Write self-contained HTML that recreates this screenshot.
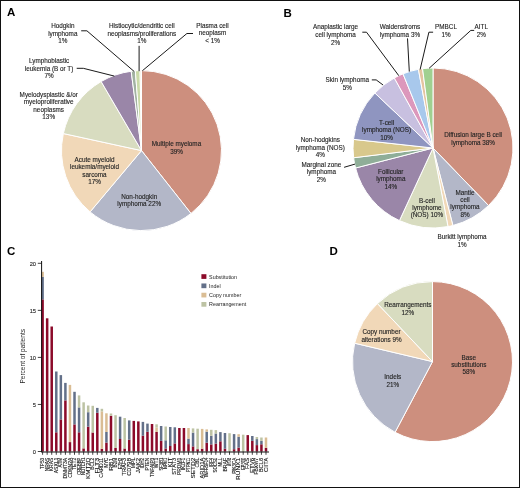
<!DOCTYPE html>
<html><head><meta charset="utf-8"><style>
html,body{margin:0;padding:0;background:#fff;}
svg{display:block;font-family:"Liberation Sans", sans-serif;will-change:transform;}
</style></head><body>
<svg width="520" height="488" viewBox="0 0 520 488">
<rect x="0" y="0" width="520" height="488" fill="#fff"/>
<text x="7.0" y="16.1" font-size="11.5" font-weight="bold" fill="#000">A</text>
<text x="283.4" y="16.6" font-size="11.5" font-weight="bold" fill="#000">B</text>
<text x="6.9" y="255.4" font-size="11.5" font-weight="bold" fill="#000">C</text>
<text x="329.4" y="255.2" font-size="11.5" font-weight="bold" fill="#000">D</text>
<path d="M141.50,150.60 L141.50,70.60 A80.0,80.0 0 0 1 190.97,213.47 Z" fill="#cd8f7e" stroke="#ffffff" stroke-width="1.0" stroke-linejoin="round"/>
<path d="M141.50,150.60 L190.97,213.47 A80.0,80.0 0 0 1 90.08,211.88 Z" fill="#b3b7c8" stroke="#ffffff" stroke-width="1.0" stroke-linejoin="round"/>
<path d="M141.50,150.60 L90.08,211.88 A80.0,80.0 0 0 1 63.34,133.56 Z" fill="#f1d8b8" stroke="#ffffff" stroke-width="1.0" stroke-linejoin="round"/>
<path d="M141.50,150.60 L63.34,133.56 A80.0,80.0 0 0 1 101.14,81.53 Z" fill="#d8dcc0" stroke="#ffffff" stroke-width="1.0" stroke-linejoin="round"/>
<path d="M141.50,150.60 L101.14,81.53 A80.0,80.0 0 0 1 131.20,71.27 Z" fill="#9a86a8" stroke="#ffffff" stroke-width="1.0" stroke-linejoin="round"/>
<path d="M141.50,150.60 L131.20,71.27 A80.0,80.0 0 0 1 135.36,70.84 Z" fill="#a2b2a2" stroke="#ffffff" stroke-width="1.0" stroke-linejoin="round"/>
<path d="M141.50,150.60 L135.36,70.84 A80.0,80.0 0 0 1 140.10,70.61 Z" fill="#cadaa8" stroke="#ffffff" stroke-width="1.0" stroke-linejoin="round"/>
<path d="M141.50,150.60 L140.10,70.61 A80.0,80.0 0 0 1 141.50,70.60 Z" fill="#f4e4c8" stroke="#ffffff" stroke-width="1.0" stroke-linejoin="round"/>
<text x="176.5" y="146.10" font-size="6.35" text-anchor="middle" fill="#242424" stroke="#242424" stroke-width="0.12">Multiple myeloma</text>
<text x="176.5" y="153.80" font-size="6.35" text-anchor="middle" fill="#242424" stroke="#242424" stroke-width="0.12">39%</text>
<text x="139.2" y="198.80" font-size="6.35" text-anchor="middle" fill="#242424" stroke="#242424" stroke-width="0.12">Non-hodgkin</text>
<text x="139.2" y="206.40" font-size="6.35" text-anchor="middle" fill="#242424" stroke="#242424" stroke-width="0.12">lymphoma 22%</text>
<text x="94.5" y="161.50" font-size="6.35" text-anchor="middle" fill="#242424" stroke="#242424" stroke-width="0.12">Acute myeloid</text>
<text x="94.5" y="169.10" font-size="6.35" text-anchor="middle" fill="#242424" stroke="#242424" stroke-width="0.12">leukemia/myeloid</text>
<text x="94.5" y="176.70" font-size="6.35" text-anchor="middle" fill="#242424" stroke="#242424" stroke-width="0.12">sarcoma</text>
<text x="94.5" y="184.30" font-size="6.35" text-anchor="middle" fill="#242424" stroke="#242424" stroke-width="0.12">17%</text>
<text x="48.7" y="96.50" font-size="6.35" text-anchor="middle" fill="#242424" stroke="#242424" stroke-width="0.12">Myelodysplastic &amp;/or</text>
<text x="48.7" y="104.13" font-size="6.35" text-anchor="middle" fill="#242424" stroke="#242424" stroke-width="0.12">myeloproliferative</text>
<text x="48.7" y="111.76" font-size="6.35" text-anchor="middle" fill="#242424" stroke="#242424" stroke-width="0.12">neoplasms</text>
<text x="48.7" y="119.39" font-size="6.35" text-anchor="middle" fill="#242424" stroke="#242424" stroke-width="0.12">13%</text>
<text x="49.1" y="63.10" font-size="6.35" text-anchor="middle" fill="#242424" stroke="#242424" stroke-width="0.12">Lymphoblastic</text>
<text x="49.1" y="70.70" font-size="6.35" text-anchor="middle" fill="#242424" stroke="#242424" stroke-width="0.12">leukemia (B or T)</text>
<text x="49.1" y="78.30" font-size="6.35" text-anchor="middle" fill="#242424" stroke="#242424" stroke-width="0.12">7%</text>
<text x="62.8" y="28.40" font-size="6.35" text-anchor="middle" fill="#242424" stroke="#242424" stroke-width="0.12">Hodgkin</text>
<text x="62.8" y="35.60" font-size="6.35" text-anchor="middle" fill="#242424" stroke="#242424" stroke-width="0.12">lymphoma</text>
<text x="62.8" y="42.80" font-size="6.35" text-anchor="middle" fill="#242424" stroke="#242424" stroke-width="0.12">1%</text>
<text x="141.8" y="28.40" font-size="6.35" text-anchor="middle" fill="#242424" stroke="#242424" stroke-width="0.12">Histiocytic/dendritic cell</text>
<text x="141.8" y="35.60" font-size="6.35" text-anchor="middle" fill="#242424" stroke="#242424" stroke-width="0.12">neoplasms/proliferations</text>
<text x="141.8" y="42.80" font-size="6.35" text-anchor="middle" fill="#242424" stroke="#242424" stroke-width="0.12">1%</text>
<text x="212.5" y="28.20" font-size="6.35" text-anchor="middle" fill="#242424" stroke="#242424" stroke-width="0.12">Plasma cell</text>
<text x="212.5" y="35.40" font-size="6.35" text-anchor="middle" fill="#242424" stroke="#242424" stroke-width="0.12">neoplasm</text>
<text x="212.5" y="42.60" font-size="6.35" text-anchor="middle" fill="#242424" stroke="#242424" stroke-width="0.12">&lt; 1%</text>
<path d="M76.70,68.30 L83.30,68.30 L114.40,76.10" fill="none" stroke="#1a1a1a" stroke-width="1.0" stroke-linejoin="miter"/>
<path d="M81.20,30.80 L86.90,30.80 L134.20,71.50" fill="none" stroke="#1a1a1a" stroke-width="1.0" stroke-linejoin="miter"/>
<path d="M139.10,45.80 L139.10,71.20" fill="none" stroke="#1a1a1a" stroke-width="1.0" stroke-linejoin="miter"/>
<path d="M193.00,33.50 L186.90,33.50 L142.30,70.80" fill="none" stroke="#1a1a1a" stroke-width="1.0" stroke-linejoin="miter"/>
<path d="M433.00,148.00 L433.00,68.00 A80.0,80.0 0 0 1 488.57,205.55 Z" fill="#cd8f7e" stroke="#ffffff" stroke-width="1.0" stroke-linejoin="round"/>
<path d="M433.00,148.00 L488.57,205.55 A80.0,80.0 0 0 1 452.90,225.49 Z" fill="#b3b7c8" stroke="#ffffff" stroke-width="1.0" stroke-linejoin="round"/>
<path d="M433.00,148.00 L452.90,225.49 A80.0,80.0 0 0 1 447.99,226.58 Z" fill="#f1d8b8" stroke="#ffffff" stroke-width="1.0" stroke-linejoin="round"/>
<path d="M433.00,148.00 L447.99,226.58 A80.0,80.0 0 0 1 399.44,220.62 Z" fill="#d8dcc0" stroke="#ffffff" stroke-width="1.0" stroke-linejoin="round"/>
<path d="M433.00,148.00 L399.44,220.62 A80.0,80.0 0 0 1 355.55,168.03 Z" fill="#9a86a8" stroke="#ffffff" stroke-width="1.0" stroke-linejoin="round"/>
<path d="M433.00,148.00 L355.55,168.03 A80.0,80.0 0 0 1 353.60,157.75 Z" fill="#8fae98" stroke="#ffffff" stroke-width="1.0" stroke-linejoin="round"/>
<path d="M433.00,148.00 L353.60,157.75 A80.0,80.0 0 0 1 353.47,139.36 Z" fill="#d8c88c" stroke="#ffffff" stroke-width="1.0" stroke-linejoin="round"/>
<path d="M433.00,148.00 L353.47,139.36 A80.0,80.0 0 0 1 374.87,93.03 Z" fill="#8f95c0" stroke="#ffffff" stroke-width="1.0" stroke-linejoin="round"/>
<path d="M433.00,148.00 L374.87,93.03 A80.0,80.0 0 0 1 394.34,77.96 Z" fill="#c8c0e0" stroke="#ffffff" stroke-width="1.0" stroke-linejoin="round"/>
<path d="M433.00,148.00 L394.34,77.96 A80.0,80.0 0 0 1 403.03,73.83 Z" fill="#dc98bc" stroke="#ffffff" stroke-width="1.0" stroke-linejoin="round"/>
<path d="M433.00,148.00 L403.03,73.83 A80.0,80.0 0 0 1 418.42,69.34 Z" fill="#a8c8ec" stroke="#ffffff" stroke-width="1.0" stroke-linejoin="round"/>
<path d="M433.00,148.00 L418.42,69.34 A80.0,80.0 0 0 1 422.56,68.68 Z" fill="#e4c4a0" stroke="#ffffff" stroke-width="1.0" stroke-linejoin="round"/>
<path d="M433.00,148.00 L422.56,68.68 A80.0,80.0 0 0 1 433.00,68.00 Z" fill="#a0d090" stroke="#ffffff" stroke-width="1.0" stroke-linejoin="round"/>
<text x="473.1" y="137.00" font-size="6.35" text-anchor="middle" fill="#242424" stroke="#242424" stroke-width="0.12">Diffusion large B cell</text>
<text x="473.1" y="144.60" font-size="6.35" text-anchor="middle" fill="#242424" stroke="#242424" stroke-width="0.12">lymphoma 38%</text>
<text x="465.0" y="194.60" font-size="6.35" text-anchor="middle" fill="#242424" stroke="#242424" stroke-width="0.12">Mantle</text>
<text x="465.0" y="201.95" font-size="6.35" text-anchor="middle" fill="#242424" stroke="#242424" stroke-width="0.12">cell</text>
<text x="465.0" y="209.30" font-size="6.35" text-anchor="middle" fill="#242424" stroke="#242424" stroke-width="0.12">lymphoma</text>
<text x="465.0" y="216.65" font-size="6.35" text-anchor="middle" fill="#242424" stroke="#242424" stroke-width="0.12">8%</text>
<text x="426.9" y="202.60" font-size="6.35" text-anchor="middle" fill="#242424" stroke="#242424" stroke-width="0.12">B-cell</text>
<text x="426.9" y="210.00" font-size="6.35" text-anchor="middle" fill="#242424" stroke="#242424" stroke-width="0.12">lymphome</text>
<text x="426.9" y="217.40" font-size="6.35" text-anchor="middle" fill="#242424" stroke="#242424" stroke-width="0.12">(NOS) 10%</text>
<text x="390.8" y="174.10" font-size="6.35" text-anchor="middle" fill="#242424" stroke="#242424" stroke-width="0.12">Follicular</text>
<text x="390.8" y="181.45" font-size="6.35" text-anchor="middle" fill="#242424" stroke="#242424" stroke-width="0.12">lymphoma</text>
<text x="390.8" y="188.80" font-size="6.35" text-anchor="middle" fill="#242424" stroke="#242424" stroke-width="0.12">14%</text>
<text x="386.6" y="124.60" font-size="6.35" text-anchor="middle" fill="#242424" stroke="#242424" stroke-width="0.12">T-cell</text>
<text x="386.6" y="132.30" font-size="6.35" text-anchor="middle" fill="#242424" stroke="#242424" stroke-width="0.12">lymphoma (NOS)</text>
<text x="386.6" y="140.00" font-size="6.35" text-anchor="middle" fill="#242424" stroke="#242424" stroke-width="0.12">10%</text>
<text x="320.3" y="142.20" font-size="6.35" text-anchor="middle" fill="#242424" stroke="#242424" stroke-width="0.12">Non-hodgkins</text>
<text x="320.3" y="149.50" font-size="6.35" text-anchor="middle" fill="#242424" stroke="#242424" stroke-width="0.12">lymphoma (NOS)</text>
<text x="320.3" y="156.80" font-size="6.35" text-anchor="middle" fill="#242424" stroke="#242424" stroke-width="0.12">4%</text>
<text x="321.4" y="166.70" font-size="6.35" text-anchor="middle" fill="#242424" stroke="#242424" stroke-width="0.12">Marginal zone</text>
<text x="321.4" y="174.20" font-size="6.35" text-anchor="middle" fill="#242424" stroke="#242424" stroke-width="0.12">lymphoma</text>
<text x="321.4" y="181.70" font-size="6.35" text-anchor="middle" fill="#242424" stroke="#242424" stroke-width="0.12">2%</text>
<text x="347.3" y="82.20" font-size="6.35" text-anchor="middle" fill="#242424" stroke="#242424" stroke-width="0.12">Skin lymphoma</text>
<text x="347.3" y="89.60" font-size="6.35" text-anchor="middle" fill="#242424" stroke="#242424" stroke-width="0.12">5%</text>
<text x="335.6" y="29.30" font-size="6.35" text-anchor="middle" fill="#242424" stroke="#242424" stroke-width="0.12">Anaplastic large</text>
<text x="335.6" y="36.90" font-size="6.35" text-anchor="middle" fill="#242424" stroke="#242424" stroke-width="0.12">cell lymphoma</text>
<text x="335.6" y="44.50" font-size="6.35" text-anchor="middle" fill="#242424" stroke="#242424" stroke-width="0.12">2%</text>
<text x="400.0" y="29.10" font-size="6.35" text-anchor="middle" fill="#242424" stroke="#242424" stroke-width="0.12">Waldenstroms</text>
<text x="400.0" y="36.65" font-size="6.35" text-anchor="middle" fill="#242424" stroke="#242424" stroke-width="0.12">lymphoma 3%</text>
<text x="446.0" y="29.10" font-size="6.35" text-anchor="middle" fill="#242424" stroke="#242424" stroke-width="0.12">PMBCL</text>
<text x="446.0" y="36.65" font-size="6.35" text-anchor="middle" fill="#242424" stroke="#242424" stroke-width="0.12">1%</text>
<text x="481.3" y="29.10" font-size="6.35" text-anchor="middle" fill="#242424" stroke="#242424" stroke-width="0.12">AITL</text>
<text x="481.3" y="36.65" font-size="6.35" text-anchor="middle" fill="#242424" stroke="#242424" stroke-width="0.12">2%</text>
<text x="462.1" y="239.30" font-size="6.35" text-anchor="middle" fill="#242424" stroke="#242424" stroke-width="0.12">Burkitt lymphoma</text>
<text x="462.1" y="246.60" font-size="6.35" text-anchor="middle" fill="#242424" stroke="#242424" stroke-width="0.12">1%</text>
<path d="M362.30,32.20 L366.50,32.20 L398.80,75.70" fill="none" stroke="#1a1a1a" stroke-width="1.0" stroke-linejoin="miter"/>
<path d="M407.50,38.40 L409.30,71.60" fill="none" stroke="#1a1a1a" stroke-width="1.0" stroke-linejoin="miter"/>
<path d="M433.10,32.20 L428.90,32.20 L420.10,69.60" fill="none" stroke="#1a1a1a" stroke-width="1.0" stroke-linejoin="miter"/>
<path d="M474.20,30.40 L470.80,30.40 L429.10,68.30" fill="none" stroke="#1a1a1a" stroke-width="1.0" stroke-linejoin="miter"/>
<path d="M371.80,79.90 L376.20,79.90 L383.10,85.00" fill="none" stroke="#1a1a1a" stroke-width="1.0" stroke-linejoin="miter"/>
<path d="M344.10,167.30 L355.00,164.10" fill="none" stroke="#1a1a1a" stroke-width="1.0" stroke-linejoin="miter"/>
<path d="M432.50,361.60 L432.50,281.60 A80.0,80.0 0 1 1 395.07,432.30 Z" fill="#cd8f7e" stroke="#ffffff" stroke-width="1.0" stroke-linejoin="round"/>
<path d="M432.50,361.60 L395.07,432.30 A80.0,80.0 0 0 1 354.65,343.20 Z" fill="#b3b7c8" stroke="#ffffff" stroke-width="1.0" stroke-linejoin="round"/>
<path d="M432.50,361.60 L354.65,343.20 A80.0,80.0 0 0 1 377.43,303.57 Z" fill="#f1d8b8" stroke="#ffffff" stroke-width="1.0" stroke-linejoin="round"/>
<path d="M432.50,361.60 L377.43,303.57 A80.0,80.0 0 0 1 432.50,281.60 Z" fill="#d8dcc0" stroke="#ffffff" stroke-width="1.0" stroke-linejoin="round"/>
<text x="468.8" y="359.60" font-size="6.35" text-anchor="middle" fill="#242424" stroke="#242424" stroke-width="0.12">Base</text>
<text x="468.8" y="366.95" font-size="6.35" text-anchor="middle" fill="#242424" stroke="#242424" stroke-width="0.12">substitutions</text>
<text x="468.8" y="374.30" font-size="6.35" text-anchor="middle" fill="#242424" stroke="#242424" stroke-width="0.12">58%</text>
<text x="392.8" y="378.70" font-size="6.35" text-anchor="middle" fill="#242424" stroke="#242424" stroke-width="0.12">Indels</text>
<text x="392.8" y="386.50" font-size="6.35" text-anchor="middle" fill="#242424" stroke="#242424" stroke-width="0.12">21%</text>
<text x="381.5" y="334.10" font-size="6.35" text-anchor="middle" fill="#242424" stroke="#242424" stroke-width="0.12">Copy number</text>
<text x="381.5" y="341.50" font-size="6.35" text-anchor="middle" fill="#242424" stroke="#242424" stroke-width="0.12">alterations 9%</text>
<text x="407.9" y="307.00" font-size="6.35" text-anchor="middle" fill="#242424" stroke="#242424" stroke-width="0.12">Rearrangements</text>
<text x="407.9" y="314.50" font-size="6.35" text-anchor="middle" fill="#242424" stroke="#242424" stroke-width="0.12">12%</text>
<rect x="41.35" y="299.40" width="2.5" height="152.10" fill="#8c0a2a"/>
<rect x="41.35" y="276.90" width="2.5" height="22.50" fill="#637089"/>
<rect x="41.35" y="271.80" width="2.5" height="5.10" fill="#dabd94"/>
<rect x="45.91" y="318.30" width="2.5" height="133.20" fill="#8c0a2a"/>
<rect x="50.47" y="326.50" width="2.5" height="125.00" fill="#8c0a2a"/>
<rect x="55.03" y="432.30" width="2.5" height="19.20" fill="#8c0a2a"/>
<rect x="55.03" y="371.50" width="2.5" height="60.80" fill="#637089"/>
<rect x="59.59" y="419.40" width="2.5" height="32.10" fill="#8c0a2a"/>
<rect x="59.59" y="375.10" width="2.5" height="44.30" fill="#637089"/>
<rect x="64.15" y="400.40" width="2.5" height="51.10" fill="#8c0a2a"/>
<rect x="64.15" y="382.90" width="2.5" height="17.50" fill="#637089"/>
<rect x="68.70" y="442.10" width="2.5" height="9.40" fill="#8c0a2a"/>
<rect x="68.70" y="384.90" width="2.5" height="57.20" fill="#dabd94"/>
<rect x="73.26" y="424.40" width="2.5" height="27.10" fill="#8c0a2a"/>
<rect x="73.26" y="391.80" width="2.5" height="32.60" fill="#637089"/>
<rect x="77.82" y="432.30" width="2.5" height="19.20" fill="#8c0a2a"/>
<rect x="77.82" y="407.40" width="2.5" height="24.90" fill="#637089"/>
<rect x="77.82" y="395.40" width="2.5" height="12.00" fill="#bdc3a4"/>
<rect x="82.38" y="448.40" width="2.5" height="3.10" fill="#8c0a2a"/>
<rect x="82.38" y="402.30" width="2.5" height="46.10" fill="#bdc3a4"/>
<rect x="86.94" y="426.70" width="2.5" height="24.80" fill="#8c0a2a"/>
<rect x="86.94" y="412.20" width="2.5" height="14.50" fill="#637089"/>
<rect x="86.94" y="405.50" width="2.5" height="6.70" fill="#bdc3a4"/>
<rect x="91.50" y="432.50" width="2.5" height="19.00" fill="#8c0a2a"/>
<rect x="91.50" y="405.80" width="2.5" height="26.70" fill="#bdc3a4"/>
<rect x="96.06" y="412.80" width="2.5" height="38.70" fill="#8c0a2a"/>
<rect x="96.06" y="407.90" width="2.5" height="4.90" fill="#637089"/>
<rect x="100.62" y="448.80" width="2.5" height="2.70" fill="#8c0a2a"/>
<rect x="100.62" y="411.40" width="2.5" height="37.40" fill="#dabd94"/>
<rect x="100.62" y="408.80" width="2.5" height="2.60" fill="#bdc3a4"/>
<rect x="105.18" y="442.60" width="2.5" height="8.90" fill="#8c0a2a"/>
<rect x="105.18" y="432.00" width="2.5" height="10.60" fill="#637089"/>
<rect x="105.18" y="413.30" width="2.5" height="18.70" fill="#dabd94"/>
<rect x="109.74" y="415.80" width="2.5" height="35.70" fill="#8c0a2a"/>
<rect x="109.74" y="413.50" width="2.5" height="2.30" fill="#bdc3a4"/>
<rect x="114.29" y="448.00" width="2.5" height="3.50" fill="#8c0a2a"/>
<rect x="114.29" y="415.20" width="2.5" height="32.80" fill="#bdc3a4"/>
<rect x="118.85" y="439.00" width="2.5" height="12.50" fill="#8c0a2a"/>
<rect x="118.85" y="416.70" width="2.5" height="22.30" fill="#637089"/>
<rect x="123.41" y="448.50" width="2.5" height="3.00" fill="#8c0a2a"/>
<rect x="123.41" y="418.00" width="2.5" height="30.50" fill="#bdc3a4"/>
<rect x="127.97" y="439.70" width="2.5" height="11.80" fill="#8c0a2a"/>
<rect x="127.97" y="420.40" width="2.5" height="19.30" fill="#637089"/>
<rect x="132.53" y="420.90" width="2.5" height="30.60" fill="#8c0a2a"/>
<rect x="137.09" y="421.40" width="2.5" height="30.10" fill="#8c0a2a"/>
<rect x="141.65" y="435.70" width="2.5" height="15.80" fill="#8c0a2a"/>
<rect x="141.65" y="421.90" width="2.5" height="13.80" fill="#637089"/>
<rect x="146.21" y="431.80" width="2.5" height="19.70" fill="#8c0a2a"/>
<rect x="146.21" y="423.60" width="2.5" height="8.20" fill="#637089"/>
<rect x="150.77" y="424.00" width="2.5" height="27.50" fill="#8c0a2a"/>
<rect x="155.33" y="432.00" width="2.5" height="19.50" fill="#8c0a2a"/>
<rect x="155.33" y="427.50" width="2.5" height="4.50" fill="#dabd94"/>
<rect x="155.33" y="424.30" width="2.5" height="3.20" fill="#bdc3a4"/>
<rect x="159.88" y="440.90" width="2.5" height="10.60" fill="#8c0a2a"/>
<rect x="159.88" y="426.00" width="2.5" height="14.90" fill="#637089"/>
<rect x="164.44" y="448.50" width="2.5" height="3.00" fill="#8c0a2a"/>
<rect x="164.44" y="440.30" width="2.5" height="8.20" fill="#637089"/>
<rect x="164.44" y="426.50" width="2.5" height="13.80" fill="#bdc3a4"/>
<rect x="169.00" y="446.00" width="2.5" height="5.50" fill="#8c0a2a"/>
<rect x="169.00" y="427.00" width="2.5" height="19.00" fill="#637089"/>
<rect x="173.56" y="443.40" width="2.5" height="8.10" fill="#8c0a2a"/>
<rect x="173.56" y="427.30" width="2.5" height="16.10" fill="#637089"/>
<rect x="178.12" y="428.00" width="2.5" height="23.50" fill="#8c0a2a"/>
<rect x="182.68" y="428.00" width="2.5" height="23.50" fill="#8c0a2a"/>
<rect x="187.24" y="444.10" width="2.5" height="7.40" fill="#8c0a2a"/>
<rect x="187.24" y="438.60" width="2.5" height="5.50" fill="#637089"/>
<rect x="187.24" y="428.00" width="2.5" height="10.60" fill="#dabd94"/>
<rect x="191.80" y="446.40" width="2.5" height="5.10" fill="#8c0a2a"/>
<rect x="191.80" y="432.60" width="2.5" height="13.80" fill="#637089"/>
<rect x="191.80" y="428.40" width="2.5" height="4.20" fill="#bdc3a4"/>
<rect x="196.36" y="449.20" width="2.5" height="2.30" fill="#8c0a2a"/>
<rect x="196.36" y="428.70" width="2.5" height="20.50" fill="#bdc3a4"/>
<rect x="200.91" y="448.70" width="2.5" height="2.80" fill="#8c0a2a"/>
<rect x="200.91" y="428.90" width="2.5" height="19.80" fill="#dabd94"/>
<rect x="205.47" y="442.70" width="2.5" height="8.80" fill="#8c0a2a"/>
<rect x="205.47" y="431.70" width="2.5" height="11.00" fill="#637089"/>
<rect x="205.47" y="429.40" width="2.5" height="2.30" fill="#dabd94"/>
<rect x="210.03" y="444.40" width="2.5" height="7.10" fill="#8c0a2a"/>
<rect x="210.03" y="435.80" width="2.5" height="8.60" fill="#637089"/>
<rect x="210.03" y="429.80" width="2.5" height="6.00" fill="#bdc3a4"/>
<rect x="214.59" y="443.60" width="2.5" height="7.90" fill="#8c0a2a"/>
<rect x="214.59" y="433.50" width="2.5" height="10.10" fill="#637089"/>
<rect x="214.59" y="430.10" width="2.5" height="3.40" fill="#bdc3a4"/>
<rect x="219.15" y="441.30" width="2.5" height="10.20" fill="#8c0a2a"/>
<rect x="219.15" y="432.10" width="2.5" height="9.20" fill="#637089"/>
<rect x="223.71" y="448.70" width="2.5" height="2.80" fill="#8c0a2a"/>
<rect x="223.71" y="433.00" width="2.5" height="15.70" fill="#637089"/>
<rect x="228.27" y="433.20" width="2.5" height="18.30" fill="#bdc3a4"/>
<rect x="232.83" y="449.20" width="2.5" height="2.30" fill="#8c0a2a"/>
<rect x="232.83" y="434.10" width="2.5" height="15.10" fill="#637089"/>
<rect x="237.39" y="447.60" width="2.5" height="3.90" fill="#8c0a2a"/>
<rect x="237.39" y="436.70" width="2.5" height="10.90" fill="#637089"/>
<rect x="237.39" y="434.20" width="2.5" height="2.50" fill="#dabd94"/>
<rect x="241.95" y="434.70" width="2.5" height="16.80" fill="#bdc3a4"/>
<rect x="246.50" y="435.10" width="2.5" height="16.40" fill="#8c0a2a"/>
<rect x="251.06" y="440.90" width="2.5" height="10.60" fill="#8c0a2a"/>
<rect x="251.06" y="436.00" width="2.5" height="4.90" fill="#637089"/>
<rect x="255.62" y="445.10" width="2.5" height="6.40" fill="#8c0a2a"/>
<rect x="255.62" y="439.10" width="2.5" height="6.00" fill="#637089"/>
<rect x="255.62" y="437.00" width="2.5" height="2.10" fill="#bdc3a4"/>
<rect x="260.18" y="444.30" width="2.5" height="7.20" fill="#8c0a2a"/>
<rect x="260.18" y="440.90" width="2.5" height="3.40" fill="#637089"/>
<rect x="260.18" y="437.50" width="2.5" height="3.40" fill="#bdc3a4"/>
<rect x="264.74" y="447.90" width="2.5" height="3.60" fill="#8c0a2a"/>
<rect x="264.74" y="437.50" width="2.5" height="10.40" fill="#dabd94"/>
<line x1="41.6" y1="261.0" x2="41.6" y2="452.0" stroke="#111" stroke-width="1"/>
<line x1="41.1" y1="452.0" x2="269" y2="452.0" stroke="#111" stroke-width="1"/>
<line x1="37.8" y1="451.50" x2="41.6" y2="451.50" stroke="#111" stroke-width="0.8"/>
<text x="36.0" y="453.80" font-size="5.7" text-anchor="end" fill="#242424" stroke="#242424" stroke-width="0.1">0</text>
<line x1="37.8" y1="404.45" x2="41.6" y2="404.45" stroke="#111" stroke-width="0.8"/>
<text x="36.0" y="406.75" font-size="5.7" text-anchor="end" fill="#242424" stroke="#242424" stroke-width="0.1">5</text>
<line x1="37.8" y1="357.40" x2="41.6" y2="357.40" stroke="#111" stroke-width="0.8"/>
<text x="36.0" y="359.70" font-size="5.7" text-anchor="end" fill="#242424" stroke="#242424" stroke-width="0.1">10</text>
<line x1="37.8" y1="310.35" x2="41.6" y2="310.35" stroke="#111" stroke-width="0.8"/>
<text x="36.0" y="312.65" font-size="5.7" text-anchor="end" fill="#242424" stroke="#242424" stroke-width="0.1">15</text>
<line x1="37.8" y1="263.30" x2="41.6" y2="263.30" stroke="#111" stroke-width="0.8"/>
<text x="36.0" y="265.60" font-size="5.7" text-anchor="end" fill="#242424" stroke="#242424" stroke-width="0.1">20</text>
<line x1="42.60" y1="451.5" x2="42.60" y2="454.8" stroke="#111" stroke-width="0.8"/>
<line x1="47.16" y1="451.5" x2="47.16" y2="454.8" stroke="#111" stroke-width="0.8"/>
<line x1="51.72" y1="451.5" x2="51.72" y2="454.8" stroke="#111" stroke-width="0.8"/>
<line x1="56.28" y1="451.5" x2="56.28" y2="454.8" stroke="#111" stroke-width="0.8"/>
<line x1="60.84" y1="451.5" x2="60.84" y2="454.8" stroke="#111" stroke-width="0.8"/>
<line x1="65.40" y1="451.5" x2="65.40" y2="454.8" stroke="#111" stroke-width="0.8"/>
<line x1="69.95" y1="451.5" x2="69.95" y2="454.8" stroke="#111" stroke-width="0.8"/>
<line x1="74.51" y1="451.5" x2="74.51" y2="454.8" stroke="#111" stroke-width="0.8"/>
<line x1="79.07" y1="451.5" x2="79.07" y2="454.8" stroke="#111" stroke-width="0.8"/>
<line x1="83.63" y1="451.5" x2="83.63" y2="454.8" stroke="#111" stroke-width="0.8"/>
<line x1="88.19" y1="451.5" x2="88.19" y2="454.8" stroke="#111" stroke-width="0.8"/>
<line x1="92.75" y1="451.5" x2="92.75" y2="454.8" stroke="#111" stroke-width="0.8"/>
<line x1="97.31" y1="451.5" x2="97.31" y2="454.8" stroke="#111" stroke-width="0.8"/>
<line x1="101.87" y1="451.5" x2="101.87" y2="454.8" stroke="#111" stroke-width="0.8"/>
<line x1="106.43" y1="451.5" x2="106.43" y2="454.8" stroke="#111" stroke-width="0.8"/>
<line x1="110.99" y1="451.5" x2="110.99" y2="454.8" stroke="#111" stroke-width="0.8"/>
<line x1="115.54" y1="451.5" x2="115.54" y2="454.8" stroke="#111" stroke-width="0.8"/>
<line x1="120.10" y1="451.5" x2="120.10" y2="454.8" stroke="#111" stroke-width="0.8"/>
<line x1="124.66" y1="451.5" x2="124.66" y2="454.8" stroke="#111" stroke-width="0.8"/>
<line x1="129.22" y1="451.5" x2="129.22" y2="454.8" stroke="#111" stroke-width="0.8"/>
<line x1="133.78" y1="451.5" x2="133.78" y2="454.8" stroke="#111" stroke-width="0.8"/>
<line x1="138.34" y1="451.5" x2="138.34" y2="454.8" stroke="#111" stroke-width="0.8"/>
<line x1="142.90" y1="451.5" x2="142.90" y2="454.8" stroke="#111" stroke-width="0.8"/>
<line x1="147.46" y1="451.5" x2="147.46" y2="454.8" stroke="#111" stroke-width="0.8"/>
<line x1="152.02" y1="451.5" x2="152.02" y2="454.8" stroke="#111" stroke-width="0.8"/>
<line x1="156.58" y1="451.5" x2="156.58" y2="454.8" stroke="#111" stroke-width="0.8"/>
<line x1="161.13" y1="451.5" x2="161.13" y2="454.8" stroke="#111" stroke-width="0.8"/>
<line x1="165.69" y1="451.5" x2="165.69" y2="454.8" stroke="#111" stroke-width="0.8"/>
<line x1="170.25" y1="451.5" x2="170.25" y2="454.8" stroke="#111" stroke-width="0.8"/>
<line x1="174.81" y1="451.5" x2="174.81" y2="454.8" stroke="#111" stroke-width="0.8"/>
<line x1="179.37" y1="451.5" x2="179.37" y2="454.8" stroke="#111" stroke-width="0.8"/>
<line x1="183.93" y1="451.5" x2="183.93" y2="454.8" stroke="#111" stroke-width="0.8"/>
<line x1="188.49" y1="451.5" x2="188.49" y2="454.8" stroke="#111" stroke-width="0.8"/>
<line x1="193.05" y1="451.5" x2="193.05" y2="454.8" stroke="#111" stroke-width="0.8"/>
<line x1="197.61" y1="451.5" x2="197.61" y2="454.8" stroke="#111" stroke-width="0.8"/>
<line x1="202.16" y1="451.5" x2="202.16" y2="454.8" stroke="#111" stroke-width="0.8"/>
<line x1="206.72" y1="451.5" x2="206.72" y2="454.8" stroke="#111" stroke-width="0.8"/>
<line x1="211.28" y1="451.5" x2="211.28" y2="454.8" stroke="#111" stroke-width="0.8"/>
<line x1="215.84" y1="451.5" x2="215.84" y2="454.8" stroke="#111" stroke-width="0.8"/>
<line x1="220.40" y1="451.5" x2="220.40" y2="454.8" stroke="#111" stroke-width="0.8"/>
<line x1="224.96" y1="451.5" x2="224.96" y2="454.8" stroke="#111" stroke-width="0.8"/>
<line x1="229.52" y1="451.5" x2="229.52" y2="454.8" stroke="#111" stroke-width="0.8"/>
<line x1="234.08" y1="451.5" x2="234.08" y2="454.8" stroke="#111" stroke-width="0.8"/>
<line x1="238.64" y1="451.5" x2="238.64" y2="454.8" stroke="#111" stroke-width="0.8"/>
<line x1="243.20" y1="451.5" x2="243.20" y2="454.8" stroke="#111" stroke-width="0.8"/>
<line x1="247.75" y1="451.5" x2="247.75" y2="454.8" stroke="#111" stroke-width="0.8"/>
<line x1="252.31" y1="451.5" x2="252.31" y2="454.8" stroke="#111" stroke-width="0.8"/>
<line x1="256.87" y1="451.5" x2="256.87" y2="454.8" stroke="#111" stroke-width="0.8"/>
<line x1="261.43" y1="451.5" x2="261.43" y2="454.8" stroke="#111" stroke-width="0.8"/>
<line x1="265.99" y1="451.5" x2="265.99" y2="454.8" stroke="#111" stroke-width="0.8"/>
<text transform="translate(25.1,356.3) rotate(-90)" font-size="6.55" text-anchor="middle" fill="#242424">Percent of patients</text>
<rect x="201.4" y="274.20" width="5" height="4.7" fill="#8c0a2a"/>
<text x="209.1" y="278.50" font-size="5.35" fill="#242424">Substitution</text>
<rect x="201.4" y="283.47" width="5" height="4.7" fill="#637089"/>
<text x="209.1" y="287.77" font-size="5.35" fill="#242424">Indel</text>
<rect x="201.4" y="292.74" width="5" height="4.7" fill="#dabd94"/>
<text x="209.1" y="297.04" font-size="5.35" fill="#242424">Copy number</text>
<rect x="201.4" y="302.01" width="5" height="4.7" fill="#bdc3a4"/>
<text x="209.1" y="306.31" font-size="5.35" fill="#242424">Rearrangement</text>
<text transform="translate(44.15,457.80) rotate(-90)" font-size="4.9" text-anchor="end" textLength="11.2" lengthAdjust="spacingAndGlyphs" fill="#1a1a1a" stroke="#1a1a1a" stroke-width="0.12">TP53</text>
<text transform="translate(48.71,457.80) rotate(-90)" font-size="4.9" text-anchor="end" textLength="13.4" lengthAdjust="spacingAndGlyphs" fill="#1a1a1a" stroke="#1a1a1a" stroke-width="0.12">NRAS</text>
<text transform="translate(53.27,457.80) rotate(-90)" font-size="4.9" text-anchor="end" textLength="13.4" lengthAdjust="spacingAndGlyphs" fill="#1a1a1a" stroke="#1a1a1a" stroke-width="0.12">KRAS</text>
<text transform="translate(57.83,457.80) rotate(-90)" font-size="4.9" text-anchor="end" textLength="15.4" lengthAdjust="spacingAndGlyphs" fill="#1a1a1a" stroke="#1a1a1a" stroke-width="0.12">ASXL1</text>
<text transform="translate(62.39,457.80) rotate(-90)" font-size="4.9" text-anchor="end" textLength="9.6" lengthAdjust="spacingAndGlyphs" fill="#1a1a1a" stroke="#1a1a1a" stroke-width="0.12">ATM</text>
<text transform="translate(66.95,457.80) rotate(-90)" font-size="4.9" text-anchor="end" textLength="20.7" lengthAdjust="spacingAndGlyphs" fill="#1a1a1a" stroke="#1a1a1a" stroke-width="0.12">DNMT3A</text>
<text transform="translate(71.50,457.80) rotate(-90)" font-size="4.9" text-anchor="end" textLength="20.0" lengthAdjust="spacingAndGlyphs" fill="#1a1a1a" stroke="#1a1a1a" stroke-width="0.12">CDKN2A</text>
<text transform="translate(76.06,457.80) rotate(-90)" font-size="4.9" text-anchor="end" textLength="12.2" lengthAdjust="spacingAndGlyphs" fill="#1a1a1a" stroke="#1a1a1a" stroke-width="0.12">TET2</text>
<text transform="translate(80.62,457.80) rotate(-90)" font-size="4.9" text-anchor="end" textLength="16.9" lengthAdjust="spacingAndGlyphs" fill="#1a1a1a" stroke="#1a1a1a" stroke-width="0.12">CREBBP</text>
<text transform="translate(85.18,457.80) rotate(-90)" font-size="4.9" text-anchor="end" textLength="17.2" lengthAdjust="spacingAndGlyphs" fill="#1a1a1a" stroke="#1a1a1a" stroke-width="0.12">NOTCH1</text>
<text transform="translate(89.74,457.80) rotate(-90)" font-size="4.9" text-anchor="end" textLength="21.2" lengthAdjust="spacingAndGlyphs" fill="#1a1a1a" stroke="#1a1a1a" stroke-width="0.12">KMT2D</text>
<text transform="translate(94.30,457.80) rotate(-90)" font-size="4.9" text-anchor="end" textLength="11.9" lengthAdjust="spacingAndGlyphs" fill="#1a1a1a" stroke="#1a1a1a" stroke-width="0.12">BCL2</text>
<text transform="translate(98.86,457.80) rotate(-90)" font-size="4.9" text-anchor="end" textLength="15.7" lengthAdjust="spacingAndGlyphs" fill="#1a1a1a" stroke="#1a1a1a" stroke-width="0.12">FLT3</text>
<text transform="translate(103.42,457.80) rotate(-90)" font-size="4.9" text-anchor="end" textLength="20.0" lengthAdjust="spacingAndGlyphs" fill="#1a1a1a" stroke="#1a1a1a" stroke-width="0.12">CARD11</text>
<text transform="translate(107.98,457.80) rotate(-90)" font-size="4.9" text-anchor="end" textLength="9.6" lengthAdjust="spacingAndGlyphs" fill="#1a1a1a" stroke="#1a1a1a" stroke-width="0.12">MYC</text>
<text transform="translate(112.54,457.80) rotate(-90)" font-size="4.9" text-anchor="end" textLength="13.0" lengthAdjust="spacingAndGlyphs" fill="#1a1a1a" stroke="#1a1a1a" stroke-width="0.12">RB1</text>
<text transform="translate(117.09,457.80) rotate(-90)" font-size="4.9" text-anchor="end" textLength="9.6" lengthAdjust="spacingAndGlyphs" fill="#1a1a1a" stroke="#1a1a1a" stroke-width="0.12">B2M</text>
<text transform="translate(121.65,457.80) rotate(-90)" font-size="4.9" text-anchor="end" textLength="11.5" lengthAdjust="spacingAndGlyphs" fill="#1a1a1a" stroke="#1a1a1a" stroke-width="0.12">EZH2</text>
<text transform="translate(126.21,457.80) rotate(-90)" font-size="4.9" text-anchor="end" textLength="17.7" lengthAdjust="spacingAndGlyphs" fill="#1a1a1a" stroke="#1a1a1a" stroke-width="0.12">TRAF3</text>
<text transform="translate(130.77,457.80) rotate(-90)" font-size="4.9" text-anchor="end" textLength="18.0" lengthAdjust="spacingAndGlyphs" fill="#1a1a1a" stroke="#1a1a1a" stroke-width="0.12">CD79B</text>
<text transform="translate(135.33,457.80) rotate(-90)" font-size="4.9" text-anchor="end" textLength="10.4" lengthAdjust="spacingAndGlyphs" fill="#1a1a1a" stroke="#1a1a1a" stroke-width="0.12">MPL</text>
<text transform="translate(139.89,457.80) rotate(-90)" font-size="4.9" text-anchor="end" textLength="15.4" lengthAdjust="spacingAndGlyphs" fill="#1a1a1a" stroke="#1a1a1a" stroke-width="0.12">JAK2</text>
<text transform="translate(144.45,457.80) rotate(-90)" font-size="4.9" text-anchor="end" textLength="10.7" lengthAdjust="spacingAndGlyphs" fill="#1a1a1a" stroke="#1a1a1a" stroke-width="0.12">IDH2</text>
<text transform="translate(149.01,457.80) rotate(-90)" font-size="4.9" text-anchor="end" textLength="12.7" lengthAdjust="spacingAndGlyphs" fill="#1a1a1a" stroke="#1a1a1a" stroke-width="0.12">PTEN</text>
<text transform="translate(153.57,457.80) rotate(-90)" font-size="4.9" text-anchor="end" textLength="19.2" lengthAdjust="spacingAndGlyphs" fill="#1a1a1a" stroke="#1a1a1a" stroke-width="0.12">TNFAIP3</text>
<text transform="translate(158.13,457.80) rotate(-90)" font-size="4.9" text-anchor="end" textLength="10.4" lengthAdjust="spacingAndGlyphs" fill="#1a1a1a" stroke="#1a1a1a" stroke-width="0.12">WT1</text>
<text transform="translate(162.68,457.80) rotate(-90)" font-size="4.9" text-anchor="end" textLength="12.7" lengthAdjust="spacingAndGlyphs" fill="#1a1a1a" stroke="#1a1a1a" stroke-width="0.12">SF3B1</text>
<text transform="translate(167.24,457.80) rotate(-90)" font-size="4.9" text-anchor="end" textLength="11.2" lengthAdjust="spacingAndGlyphs" fill="#1a1a1a" stroke="#1a1a1a" stroke-width="0.12">NPM1</text>
<text transform="translate(171.80,457.80) rotate(-90)" font-size="4.9" text-anchor="end" textLength="9.6" lengthAdjust="spacingAndGlyphs" fill="#1a1a1a" stroke="#1a1a1a" stroke-width="0.12">KIT</text>
<text transform="translate(176.36,457.80) rotate(-90)" font-size="4.9" text-anchor="end" textLength="16.9" lengthAdjust="spacingAndGlyphs" fill="#1a1a1a" stroke="#1a1a1a" stroke-width="0.12">STAT3</text>
<text transform="translate(180.92,457.80) rotate(-90)" font-size="4.9" text-anchor="end" textLength="17.2" lengthAdjust="spacingAndGlyphs" fill="#1a1a1a" stroke="#1a1a1a" stroke-width="0.12">PRDM1</text>
<text transform="translate(185.48,457.80) rotate(-90)" font-size="4.9" text-anchor="end" textLength="12.2" lengthAdjust="spacingAndGlyphs" fill="#1a1a1a" stroke="#1a1a1a" stroke-width="0.12">IKZF1</text>
<text transform="translate(190.04,457.80) rotate(-90)" font-size="4.9" text-anchor="end" textLength="14.2" lengthAdjust="spacingAndGlyphs" fill="#1a1a1a" stroke="#1a1a1a" stroke-width="0.12">PTPN11</text>
<text transform="translate(194.60,457.80) rotate(-90)" font-size="4.9" text-anchor="end" textLength="20.7" lengthAdjust="spacingAndGlyphs" fill="#1a1a1a" stroke="#1a1a1a" stroke-width="0.12">SETD2</text>
<text transform="translate(199.16,457.80) rotate(-90)" font-size="4.9" text-anchor="end" textLength="9.6" lengthAdjust="spacingAndGlyphs" fill="#1a1a1a" stroke="#1a1a1a" stroke-width="0.12">CBL</text>
<text transform="translate(203.72,457.80) rotate(-90)" font-size="4.9" text-anchor="end" textLength="20.7" lengthAdjust="spacingAndGlyphs" fill="#1a1a1a" stroke="#1a1a1a" stroke-width="0.12">ARID1A</text>
<text transform="translate(208.27,457.80) rotate(-90)" font-size="4.9" text-anchor="end" textLength="20.0" lengthAdjust="spacingAndGlyphs" fill="#1a1a1a" stroke="#1a1a1a" stroke-width="0.12">TNFRSF14</text>
<text transform="translate(212.83,457.80) rotate(-90)" font-size="4.9" text-anchor="end" textLength="9.2" lengthAdjust="spacingAndGlyphs" fill="#1a1a1a" stroke="#1a1a1a" stroke-width="0.12">IRF4</text>
<text transform="translate(217.39,457.80) rotate(-90)" font-size="4.9" text-anchor="end" textLength="14.6" lengthAdjust="spacingAndGlyphs" fill="#1a1a1a" stroke="#1a1a1a" stroke-width="0.12">SOCS1</text>
<text transform="translate(221.95,457.80) rotate(-90)" font-size="4.9" text-anchor="end" textLength="8.8" lengthAdjust="spacingAndGlyphs" fill="#1a1a1a" stroke="#1a1a1a" stroke-width="0.12">MLL</text>
<text transform="translate(226.51,457.80) rotate(-90)" font-size="4.9" text-anchor="end" textLength="13.8" lengthAdjust="spacingAndGlyphs" fill="#1a1a1a" stroke="#1a1a1a" stroke-width="0.12">BRAF</text>
<text transform="translate(231.07,457.80) rotate(-90)" font-size="4.9" text-anchor="end" textLength="8.4" lengthAdjust="spacingAndGlyphs" fill="#1a1a1a" stroke="#1a1a1a" stroke-width="0.12">MYD88</text>
<text transform="translate(235.63,457.80) rotate(-90)" font-size="4.9" text-anchor="end" textLength="15.8" lengthAdjust="spacingAndGlyphs" fill="#1a1a1a" stroke="#1a1a1a" stroke-width="0.12">PIK3CA</text>
<text transform="translate(240.19,457.80) rotate(-90)" font-size="4.9" text-anchor="end" textLength="22.1" lengthAdjust="spacingAndGlyphs" fill="#1a1a1a" stroke="#1a1a1a" stroke-width="0.12">RUNX1</text>
<text transform="translate(244.75,457.80) rotate(-90)" font-size="4.9" text-anchor="end" textLength="12.0" lengthAdjust="spacingAndGlyphs" fill="#1a1a1a" stroke="#1a1a1a" stroke-width="0.12">EP300</text>
<text transform="translate(249.31,457.80) rotate(-90)" font-size="4.9" text-anchor="end" textLength="11.1" lengthAdjust="spacingAndGlyphs" fill="#1a1a1a" stroke="#1a1a1a" stroke-width="0.12">FAS</text>
<text transform="translate(253.86,457.80) rotate(-90)" font-size="4.9" text-anchor="end" textLength="15.3" lengthAdjust="spacingAndGlyphs" fill="#1a1a1a" stroke="#1a1a1a" stroke-width="0.12">ETV6</text>
<text transform="translate(258.42,457.80) rotate(-90)" font-size="4.9" text-anchor="end" textLength="16.6" lengthAdjust="spacingAndGlyphs" fill="#1a1a1a" stroke="#1a1a1a" stroke-width="0.12">FBXW7</text>
<text transform="translate(262.98,457.80) rotate(-90)" font-size="4.9" text-anchor="end" textLength="14.5" lengthAdjust="spacingAndGlyphs" fill="#1a1a1a" stroke="#1a1a1a" stroke-width="0.12">BCL6</text>
<text transform="translate(267.54,457.80) rotate(-90)" font-size="4.9" text-anchor="end" textLength="14.1" lengthAdjust="spacingAndGlyphs" fill="#1a1a1a" stroke="#1a1a1a" stroke-width="0.12">CIITA</text>
<rect x="0.5" y="0.5" width="519" height="487" fill="none" stroke="#111" stroke-width="1"/>
</svg>
</body></html>
